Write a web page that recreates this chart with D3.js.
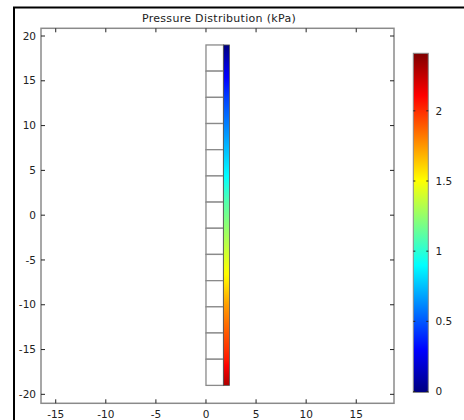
<!DOCTYPE html>
<html>
<head>
<meta charset="utf-8">
<script src="https://cdn.jsdelivr.net/npm/d3@7"></script>
<style>
  html, body { margin: 0; padding: 0; background: #fff; }
  svg { display: block; font-family: "DejaVu Sans", sans-serif; }
</style>
</head>
<body>
<div id="chart"></div>
<script>
// pressure distribution along the column
const xTicks = [-15, -10, -5, 0, 5, 10, 15];
const yTicks = [-20, -15, -10, -5, 0, 5, 10, 15, 20];
const cbTicks = [0, 0.5, 1, 1.5, 2];
const cbMax = 2.41;

// column: 13 elements between y = 19 and y = -19
const nodeY = [19, 16.08, 13.15, 10.23, 7.31, 4.38, 1.46, -1.46, -4.38, -7.31, -10.23, -13.15, -16.08, -19];
const nodeP = [0, 0.25, 0.45, 0.6, 0.75, 0.9, 1.1, 1.25, 1.4, 1.55, 1.75, 1.9, 2.05, 2.3];
const boxX = [0, 1.75];
const stripX = [1.75, 2.35];

(function () {
  const width = 464, height = 420;
  const svg = d3.select("#chart")
    .append("svg")
    .attr("width", width)
    .attr("height", height);

  const x = d3.scaleLinear().domain([-16.47, 18.77]).range([41, 394]);
  const y = d3.scaleLinear().domain([-21.0, 20.86]).range([403.3, 28.3]);

  // jet colormap
  const jet = d3.scaleLinear()
    .domain([0, 0.125, 0.375, 0.625, 0.875, 1].map(f => f * cbMax))
    .range(["#00007f", "#0000ff", "#00ffff", "#ffff00", "#ff0000", "#7f0000"])
    .clamp(true);

  const defs = svg.append("defs");

  // outer frame
  svg.append("rect")
    .attr("x", 14).attr("y", 7.5)
    .attr("width", 470).attr("height", 430)
    .attr("fill", "none")
    .attr("stroke", "#000")
    .attr("stroke-width", 2);

  // title
  svg.append("text")
    .attr("x", 219)
    .attr("y", 21.5)
    .attr("text-anchor", "middle")
    .style("font-size", "11px")
    .style("letter-spacing", "0.3px")
    .attr("fill", "#222")
    .text("Pressure Distribution (kPa)");

  // plot frame
  const [x0, x1] = x.range();
  const [y0, y1] = y.range();
  svg.append("rect")
    .attr("x", x0).attr("y", y1)
    .attr("width", x1 - x0).attr("height", y0 - y1)
    .attr("fill", "#fff")
    .attr("stroke", "#8a8a8a")
    .attr("stroke-width", 1.5);

  const tickLen = 4;
  const g = svg.append("g").attr("stroke", "#222").attr("stroke-width", 1);
  xTicks.forEach(t => {
    g.append("line").attr("x1", x(t)).attr("x2", x(t)).attr("y1", y0).attr("y2", y0 - tickLen);
    g.append("line").attr("x1", x(t)).attr("x2", x(t)).attr("y1", y1).attr("y2", y1 + tickLen);
  });
  yTicks.forEach(t => {
    g.append("line").attr("y1", y(t)).attr("y2", y(t)).attr("x1", x0).attr("x2", x0 + tickLen);
    g.append("line").attr("y1", y(t)).attr("y2", y(t)).attr("x1", x1).attr("x2", x1 - tickLen);
  });

  svg.append("g").selectAll("text")
    .data(xTicks).enter().append("text")
    .attr("x", d => x(d))
    .attr("y", 418)
    .attr("text-anchor", "middle")
    .style("font-size", "10.5px")
    .attr("fill", "#222")
    .text(d => d);

  svg.append("g").selectAll("text")
    .data(yTicks).enter().append("text")
    .attr("x", 36)
    .attr("y", d => y(d))
    .attr("dy", "0.35em")
    .attr("text-anchor", "end")
    .style("font-size", "10.5px")
    .attr("fill", "#222")
    .text(d => d);

  // pressure strip gradient
  const sg = defs.append("linearGradient")
    .attr("id", "strip")
    .attr("gradientUnits", "userSpaceOnUse")
    .attr("x1", 0).attr("x2", 0)
    .attr("y1", y(nodeY[0])).attr("y2", y(nodeY[nodeY.length - 1]));
  const span = y(nodeY[nodeY.length - 1]) - y(nodeY[0]);
  for (let i = 0; i < nodeY.length - 1; i++) {
    for (let k = 0; k < 4; k++) {
      const f = k / 4;
      const yy = nodeY[i] + (nodeY[i + 1] - nodeY[i]) * f;
      const pp = nodeP[i] + (nodeP[i + 1] - nodeP[i]) * f;
      sg.append("stop").attr("offset", (y(yy) - y(nodeY[0])) / span).attr("stop-color", jet(pp));
    }
  }
  sg.append("stop").attr("offset", 1).attr("stop-color", jet(nodeP[nodeP.length - 1]));

  const yTop = nodeY[0], yBot = nodeY[nodeY.length - 1];

  // white elements
  svg.append("g").selectAll("rect")
    .data(d3.pairs(nodeY)).enter().append("rect")
    .attr("x", x(boxX[0]))
    .attr("y", d => y(d[0]))
    .attr("width", x(boxX[1]) - x(boxX[0]))
    .attr("height", d => y(d[1]) - y(d[0]))
    .attr("fill", "#fff")
    .attr("stroke", "#8a8a8a")
    .attr("stroke-width", 1.3);

  svg.append("rect")
    .attr("x", x(stripX[0]))
    .attr("y", y(yTop))
    .attr("width", x(stripX[1]) - x(stripX[0]))
    .attr("height", y(yBot) - y(yTop))
    .attr("fill", "url(#strip)")
    .attr("stroke", "#555")
    .attr("stroke-width", 0.8);

  // colorbar
  const cbY = d3.scaleLinear().domain([0, cbMax]).range([391.5, 53.3]);
  const cbX0 = 413.3, cbX1 = 428.3;
  const cg = defs.append("linearGradient")
    .attr("id", "cbar")
    .attr("x1", 0).attr("x2", 0).attr("y1", 1).attr("y2", 0);
  jet.domain().forEach(v => {
    cg.append("stop").attr("offset", v / cbMax).attr("stop-color", jet(v));
  });
  svg.append("rect")
    .attr("x", cbX0).attr("y", cbY(cbMax))
    .attr("width", cbX1 - cbX0)
    .attr("height", cbY(0) - cbY(cbMax) + 1)
    .attr("fill", "url(#cbar)")
    .attr("stroke", "#8a8a8a")
    .attr("stroke-width", 1);

  const cbt = svg.append("g").attr("stroke", "#222").attr("stroke-width", 1);
  cbTicks.forEach(t => {
    cbt.append("line").attr("x1", cbX0).attr("x2", cbX0 + 2).attr("y1", cbY(t)).attr("y2", cbY(t));
    cbt.append("line").attr("x1", cbX1).attr("x2", cbX1 - 2).attr("y1", cbY(t)).attr("y2", cbY(t));
  });

  svg.append("g").selectAll("text")
    .data(cbTicks).enter().append("text")
    .attr("x", 435.5)
    .attr("y", d => cbY(d))
    .attr("dy", "0.35em")
    .style("font-size", "10.5px")
    .attr("fill", "#222")
    .text(d => d);
})();
</script>
</body>
</html>
